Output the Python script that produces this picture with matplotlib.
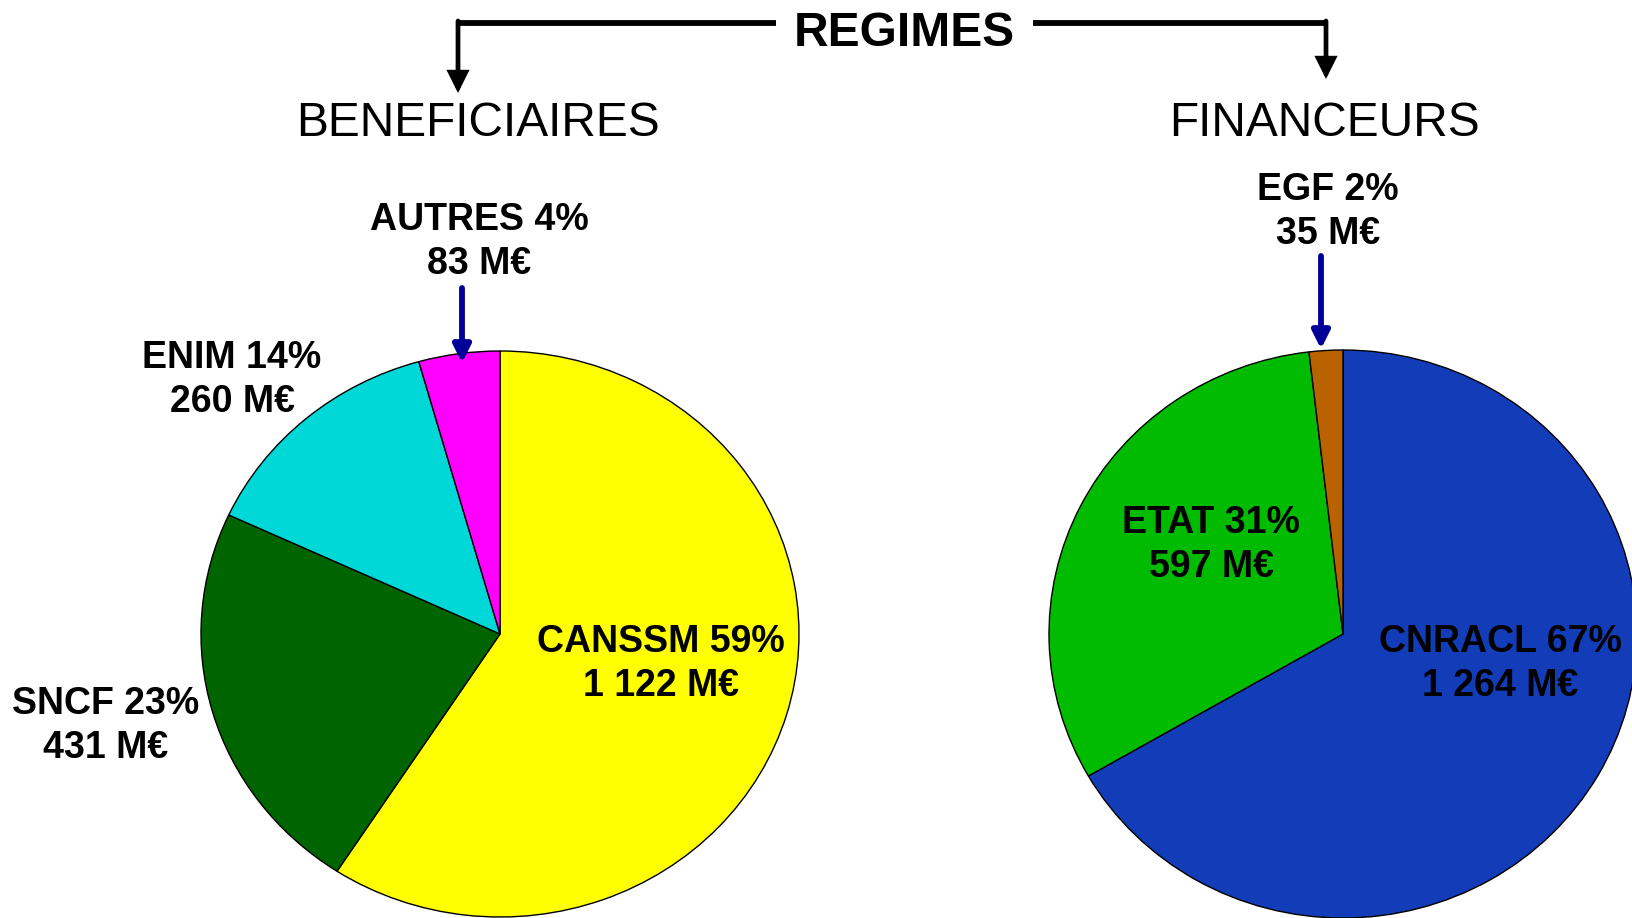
# Two pies: who benefits from / who finances the regimes (M€)

import matplotlib.pyplot as plt

plt.rcParams['font.family'] = ['Liberation Sans', 'DejaVu Sans']

# data
benef_names = ['CANSSM', 'SNCF', 'ENIM', 'AUTRES']
benef_values = [1122, 431, 260, 83]
benef_pct = [59, 23, 14, 4]
benef_colors = ['#FFFF00', '#006400', '#00D8D8', '#FF00FF']

financ_names = ['CNRACL', 'ETAT', 'EGF']
financ_values = [1264, 597, 35]
financ_pct = [67, 31, 2]
financ_colors = ['#133CB8', '#00BB00', '#B86200']

W, H = 1633, 918

# label positions in pixels (x, y of block center)
benef_pos = [(661, 664), (106, 726), (232, 380), (479, 242)]
financ_pos = [(1500, 664), (1211, 545), (1328, 212)]


def fmt(name, pct, val):
    return '%s %d%%\n%s M€' % (name, pct, '{:,}'.format(val).replace(',', ' '))


def pie_axes(fig, cx, cy, rx, ry, values, colors):
    ax = fig.add_axes([(cx - rx) / W, (H - cy - ry) / H, 2 * rx / W, 2 * ry / H])
    wedges, _ = ax.pie(values, colors=colors, startangle=90, counterclock=False,
                       wedgeprops=dict(edgecolor='black', linewidth=1.0))
    for w in wedges:
        w.set_clip_on(False)
    ax.set_aspect('auto')
    ax.set_xlim(-1, 1)
    ax.set_ylim(-1, 1)
    ax.axis('off')
    return ax


fig = plt.figure(figsize=(W / 100, H / 100), dpi=100)
fig.patch.set_facecolor('white')

pie_axes(fig, 500, 634, 299, 283, benef_values, benef_colors)
pie_axes(fig, 1343, 634, 294, 284, financ_values, financ_colors)

# overlay in pixel coordinates for text and arrows
ax0 = fig.add_axes([0, 0, 1, 1])
ax0.set_xlim(0, W)
ax0.set_ylim(H, 0)
ax0.axis('off')

lab_style = dict(ha='center', va='center', fontsize=27, fontweight='bold',
                 linespacing=1.3, color='black')
for n, p, v, (x, y) in zip(benef_names, benef_pct, benef_values, benef_pos):
    ax0.text(x, y, fmt(n, p, v), **lab_style)
for n, p, v, (x, y) in zip(financ_names, financ_pct, financ_values, financ_pos):
    ax0.text(x, y, fmt(n, p, v), **lab_style)

# header
ax0.text(904, 33, 'REGIMES', ha='center', va='center', fontsize=34.5, fontweight='bold')
ax0.text(478, 123, 'BENEFICIAIRES', ha='center', va='center', fontsize=34.5)
ax0.text(1325, 123, 'FINANCEURS', ha='center', va='center', fontsize=34.5)

# bracket
ax0.plot([456, 776], [23, 23], color='black', lw=4.2, solid_capstyle='butt')
ax0.plot([1033, 1328], [23, 23], color='black', lw=4.2, solid_capstyle='butt')
head = dict(arrowstyle='-|>', color='black', lw=3.4, mutation_scale=28,
            shrinkA=0, shrinkB=0, joinstyle='miter')
ax0.annotate('', xy=(458, 93), xytext=(458, 21), arrowprops=head)
ax0.annotate('', xy=(1326, 79), xytext=(1326, 21), arrowprops=head)

# navy arrows toward the small slices
navy = dict(arrowstyle='-|>', color='#000099', lw=4.2, mutation_scale=26,
            shrinkA=0, shrinkB=0)
ax0.annotate('', xy=(462, 363), xytext=(462, 288), arrowprops=navy)
ax0.annotate('', xy=(1321, 349), xytext=(1321, 256), arrowprops=navy)

fig.savefig('out.png', dpi=100)
